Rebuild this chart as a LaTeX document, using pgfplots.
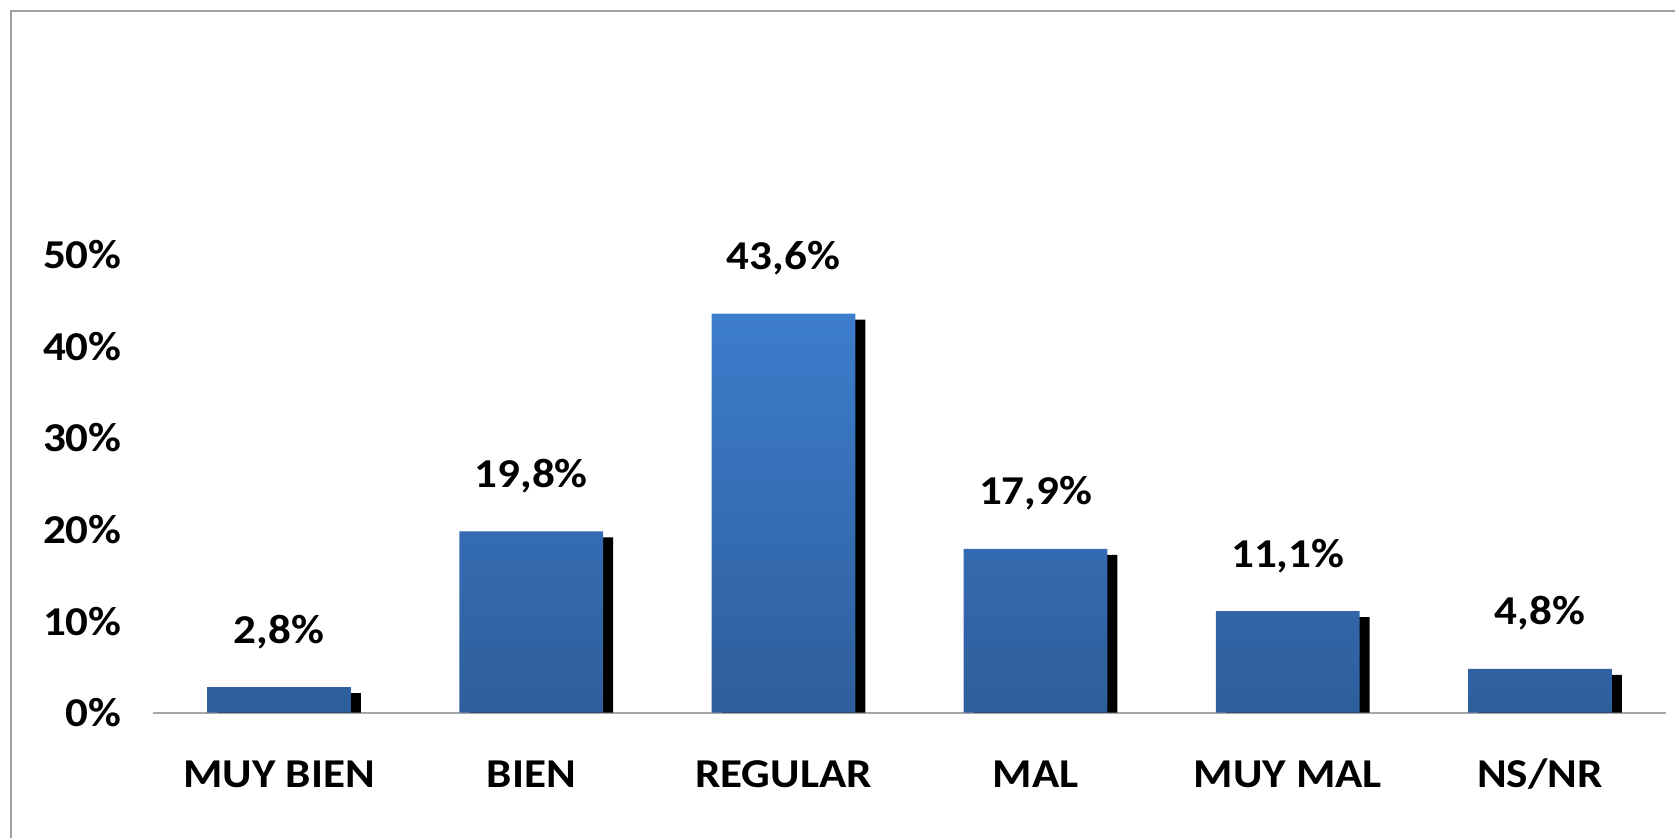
\documentclass[border=0pt]{standalone}
\usepackage{pgfplots}
\pgfplotsset{compat=1.18}
\usepackage{fontspec}
\setmainfont{Carlito}[FakeStretch=1.1]
\definecolor{frameg}{HTML}{A0A0A0}
\definecolor{axisg}{HTML}{A6A6A6}
\definecolor{bartop}{HTML}{3C7DCC}
\definecolor{barbot}{HTML}{2F5E9C}
\begin{document}
\begin{tikzpicture}
\useasboundingbox (-76.5pt,-62.15pt) rectangle (761pt,356.35pt);
\draw[frameg, line width=1pt] (-71pt,-80pt) -- (-71pt,350.85pt) -- (780pt,350.85pt);
\begin{axis}[
  at={(0,0)}, anchor=south west,
  scale only axis,
  width=756.5pt, height=228.9pt,
  ymin=0, ymax=50,
  xmin=-0.5, xmax=5.5,
  clip=false,
  axis x line*=bottom,
  axis y line*=left,
  x axis line style={axisg, line width=1pt, -},
  y axis line style={draw=none},
  major tick length=0pt,
  xtick={0,1,2,3,4,5},
  xticklabels={MUY BIEN,BIEN,REGULAR,MAL,MUY MAL,NS/NR},
  ytick={0,10,20,30,40,50},
  yticklabels={0\%,10\%,20\%,30\%,40\%,50\%},
  tick label style={font=\fontsize{20.5}{24}\selectfont\bfseries, inner sep=0pt},
  xticklabel style={anchor=base, yshift=-37.5pt},
  yticklabel style={anchor=east, xshift=-15.5pt},
  ybar,
  bar width=71.85pt,
]
\addplot[fill=black, draw=none, bar shift=5pt] coordinates {
  (0,2.14) (1,19.14) (2,42.94) (3,17.24) (4,10.44) (5,4.14)
};
\addplot[draw=none, top color=bartop, bottom color=barbot, bar shift=0pt,
  point meta=explicit symbolic,
  nodes near coords,
  nodes near coords style={font=\fontsize{20.5}{24}\selectfont\bfseries, anchor=base, inner sep=0pt, yshift=22pt, black}]
coordinates {
  (0,2.8) [2,8\%]
  (1,19.8) [19,8\%]
  (2,43.6) [43,6\%]
  (3,17.9) [17,9\%]
  (4,11.1) [11,1\%]
  (5,4.8) [4,8\%]
};
\end{axis}
\end{tikzpicture}
\end{document}
